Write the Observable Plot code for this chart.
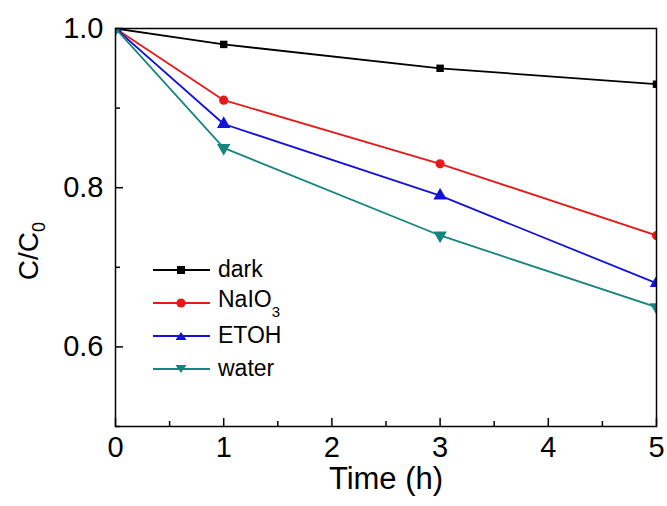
<!DOCTYPE html>
<html><head><meta charset="utf-8">
<script src="https://cdn.jsdelivr.net/npm/d3@7"></script>
<script src="https://cdn.jsdelivr.net/npm/@observablehq/plot@0.6"></script>
<style>
body{margin:0;background:#fff;font-family:"Liberation Sans",Arial,sans-serif;}
#wrap{position:relative;width:667px;height:506px;}
#wrap svg{display:block;}
#legend{position:absolute;left:153px;top:253px;font-size:23px;}
.row{display:flex;align-items:center;height:33px;}
.row svg{margin-right:8px;}
.row sub{font-size:15px;vertical-align:-10px;}
</style></head><body>
<div id="wrap"></div>
<script>
const times = [0, 1, 3, 5];
const seriesNames = ["dark", "NaIO3", "ETOH", "water"];
const dark  = [1.0, 0.98, 0.95, 0.93];
const naio3 = [1.0, 0.91, 0.83, 0.74];
const etoh  = [1.0, 0.88, 0.79, 0.68];
const water = [1.0, 0.85, 0.74, 0.65];
const colors = ["#000000", "#e81818", "#1212d8", "#168580"];
const symbols = ["square", "circle", "triangle", "triangle"];
const xMajor = [0, 1, 2, 3, 4, 5];
const xMinor = [0.5, 1.5, 2.5, 3.5, 4.5];
const yMajor = [0.6, 0.8, 1.0];
const yMinor = [0.5, 0.7, 0.9];
const xLabel = "Time (h)";
const yLabelMain = "C/C";
const yLabelSub = "0";

const valuesBySeries = [dark, naio3, etoh, water];
const data = [];
seriesNames.forEach((s, i) => times.forEach((t, j) => data.push({series: s, t, v: valuesBySeries[i][j]})));

const marks = [];
seriesNames.forEach((s, i) => {
  const d = data.filter(e => e.series === s);
  marks.push(Plot.line(d, {x: "t", y: "v", stroke: colors[i], strokeWidth: 1.8, clip: true}));
  const isDown = s === "water";
  marks.push(Plot.dot(d, {x: "t", y: "v", fill: colors[i], stroke: "none", symbol: symbols[i],
    r: symbols[i] === "square" ? 4.2 : (symbols[i] === "circle" ? 4.6 : 5),
    rotate: isDown ? 180 : 0, clip: true}));
});

const chart = Plot.plot({
  width: 667, height: 506,
  marginLeft: 115, marginRight: 11, marginTop: 28, marginBottom: 80,
  style: {fontFamily: "Liberation Sans, Arial, sans-serif", fontSize: "29px", color: "#000", background: "#fff"},
  x: {domain: [0, 5]},
  y: {domain: [0.5, 1.0]},
  marks: [
    Plot.axisX(xMajor, {tickSize: 0, tickPadding: 10, tickFormat: d => d3.format("d")(d), fontSize: 29, label: null}),
    Plot.axisX(xMajor, {tickSize: -8, text: null, strokeWidth: 1.5, label: null}),
    Plot.axisX(xMinor, {tickSize: -5, text: null, strokeWidth: 1.5, label: null}),
    Plot.axisY(yMajor, {tickSize: 0, tickPadding: 12, tickFormat: d => d3.format(".1f")(d), fontSize: 29, label: null}),
    Plot.axisY(yMajor, {tickSize: -8, text: null, strokeWidth: 1.5, label: null}),
    Plot.axisY(yMinor, {tickSize: -5, text: null, strokeWidth: 1.5, label: null}),
    Plot.text([xLabel], {frameAnchor: "bottom", dy: 62, fontSize: 31, text: d => d}),
    ...marks,
    Plot.frame({stroke: "#000", strokeWidth: 1.5})
  ]
});
const wrap = document.getElementById("wrap");
wrap.appendChild(chart);

// y-axis title with subscript
const svg = d3.select(chart);
const yt = svg.append("text")
  .attr("transform", "translate(38,251) rotate(-90)")
  .attr("text-anchor", "middle")
  .attr("font-family", "Liberation Sans, Arial, sans-serif")
  .attr("font-size", 28)
  .attr("fill", "#000");
yt.append("tspan").text(yLabelMain);
yt.append("tspan").attr("font-size", 18).attr("dy", 7).text(yLabelSub);

const legend = document.createElement("div");
legend.id = "legend";
const legendLabels = ["dark", "NaIO<sub>3</sub>", "ETOH", "water"];
seriesNames.forEach((s, i) => {
  const row = document.createElement("div");
  row.className = "row";
  let sym;
  if (symbols[i] === "square") sym = `<rect x="24" y="7" width="8" height="8" fill="${colors[i]}"/>`;
  else if (symbols[i] === "circle") sym = `<circle cx="28" cy="11" r="4.6" fill="${colors[i]}"/>`;
  else if (s === "water") sym = `<path d="M22.5,7 L33.5,7 L28,15 Z" fill="${colors[i]}"/>`;
  else sym = `<path d="M22.5,15 L33.5,15 L28,7 Z" fill="${colors[i]}"/>`;
  row.innerHTML = `<svg width="57" height="22"><line x1="0" x2="57" y1="11" y2="11" stroke="${colors[i]}" stroke-width="1.8"/>${sym}</svg><span>${legendLabels[i]}</span>`;
  legend.appendChild(row);
});
wrap.appendChild(legend);
</script>
</body></html>
